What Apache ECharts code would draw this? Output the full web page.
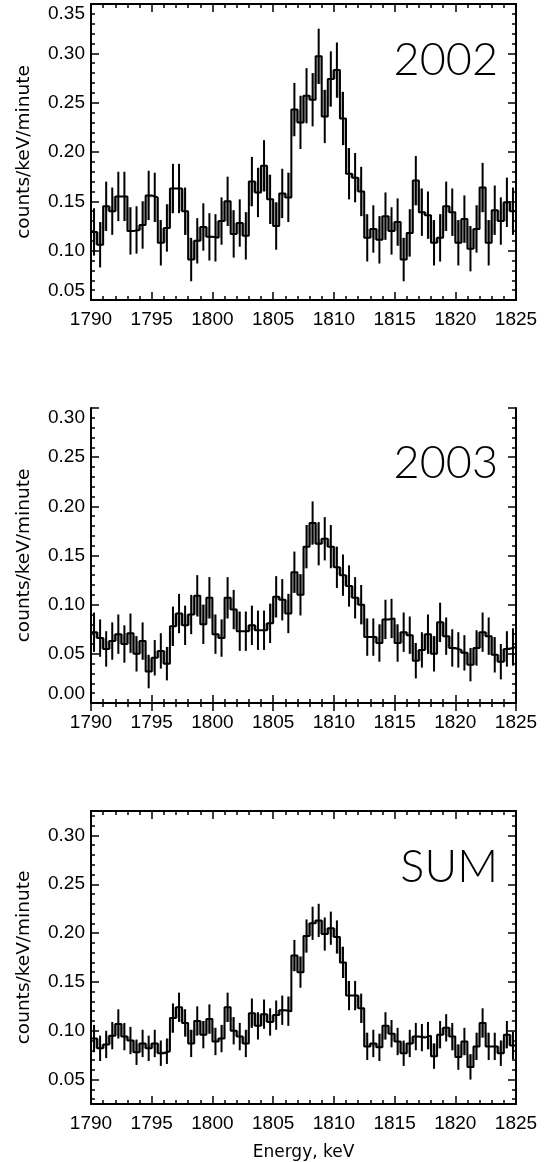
<!DOCTYPE html>
<html><head><meta charset="utf-8">
<script src="https://cdn.jsdelivr.net/npm/echarts@6/dist/echarts.min.js"></script>
<style>html,body{margin:0;padding:0;background:#fff}#c{width:555px;height:1162px}</style>
</head><body><div id="c"></div>
<script>
// ---------- data ----------
const xMin = 1790, xMax = 1825, binWidth = 0.5;
const xTicks = [1790, 1795, 1800, 1805, 1810, 1815, 1820, 1825];
const panelNames = ['2002', '2003', 'SUM'];

const y2002 = [0.119,0.106,0.145,0.140,0.155,0.155,0.120,0.121,0.126,0.156,
               0.154,0.108,0.123,0.163,0.163,0.140,0.091,0.110,0.124,0.114,
               0.113,0.130,0.150,0.117,0.128,0.115,0.170,0.159,0.186,0.152,
               0.125,0.158,0.154,0.243,0.230,0.257,0.253,0.297,0.236,0.274,
               0.283,0.234,0.178,0.174,0.160,0.113,0.122,0.111,0.135,0.120,
               0.129,0.091,0.118,0.171,0.139,0.136,0.108,0.113,0.145,0.139,
               0.108,0.132,0.102,0.122,0.164,0.108,0.141,0.130,0.149,0.140];
const e2002 = [0.024,0.023,0.025,0.024,0.025,0.025,0.024,0.024,0.024,0.025,
               0.025,0.023,0.024,0.025,0.025,0.024,0.022,0.023,0.024,0.024,
               0.024,0.024,0.025,0.024,0.024,0.024,0.025,0.025,0.026,0.025,
               0.024,0.025,0.025,0.027,0.027,0.028,0.027,0.028,0.027,0.028,
               0.028,0.027,0.026,0.025,0.025,0.024,0.024,0.024,0.024,0.024,
               0.024,0.022,0.024,0.025,0.024,0.024,0.023,0.024,0.025,0.024,
               0.023,0.024,0.023,0.024,0.025,0.023,0.025,0.024,0.025,0.024];

const y2003 = [0.072,0.066,0.055,0.063,0.070,0.060,0.071,0.050,0.063,0.032,
               0.046,0.053,0.040,0.078,0.091,0.079,0.090,0.109,0.080,0.107,
               0.070,0.066,0.107,0.095,0.073,0.073,0.079,0.074,0.074,0.081,
               0.108,0.105,0.091,0.133,0.110,0.159,0.183,0.162,0.167,0.159,
               0.138,0.130,0.119,0.107,0.100,0.067,0.067,0.061,0.085,0.086,
               0.061,0.072,0.069,0.043,0.054,0.070,0.050,0.082,0.068,0.056,
               0.054,0.051,0.039,0.056,0.072,0.068,0.049,0.042,0.055,0.057];
const e2003 = [0.020,0.019,0.018,0.019,0.020,0.019,0.020,0.018,0.019,0.017,
               0.018,0.018,0.017,0.020,0.020,0.020,0.020,0.021,0.020,0.021,
               0.020,0.019,0.021,0.020,0.020,0.020,0.020,0.020,0.020,0.020,
               0.021,0.021,0.020,0.021,0.021,0.022,0.022,0.022,0.022,0.022,
               0.021,0.021,0.021,0.021,0.020,0.019,0.019,0.019,0.020,0.020,
               0.019,0.020,0.019,0.018,0.018,0.020,0.018,0.020,0.019,0.019,
               0.018,0.018,0.017,0.018,0.020,0.019,0.018,0.018,0.018,0.019];

const ySum = [0.092,0.082,0.086,0.095,0.107,0.094,0.090,0.078,0.087,0.082,
              0.087,0.077,0.079,0.113,0.124,0.108,0.087,0.110,0.096,0.112,
              0.089,0.092,0.124,0.100,0.094,0.087,0.118,0.105,0.117,0.109,
              0.116,0.121,0.120,0.177,0.160,0.197,0.210,0.213,0.199,0.205,
              0.196,0.170,0.136,0.136,0.123,0.084,0.087,0.083,0.105,0.097,
              0.089,0.077,0.087,0.094,0.093,0.095,0.074,0.096,0.103,0.094,
              0.073,0.089,0.063,0.084,0.108,0.084,0.084,0.077,0.096,0.085];
const eSum = [0.014,0.013,0.014,0.014,0.015,0.014,0.014,0.013,0.014,0.013,
              0.014,0.013,0.013,0.015,0.015,0.014,0.014,0.015,0.014,0.015,
              0.014,0.014,0.015,0.014,0.014,0.014,0.015,0.014,0.015,0.014,
              0.015,0.015,0.015,0.016,0.016,0.017,0.017,0.017,0.017,0.017,
              0.017,0.016,0.015,0.015,0.015,0.014,0.014,0.014,0.014,0.014,
              0.014,0.013,0.014,0.014,0.014,0.014,0.013,0.014,0.014,0.014,
              0.013,0.014,0.013,0.014,0.015,0.014,0.014,0.013,0.014,0.014];

const yTicks2002 = [0.05, 0.10, 0.15, 0.20, 0.25, 0.30, 0.35];
const yTicks2003 = [0.00, 0.05, 0.10, 0.15, 0.20, 0.25, 0.30];
const yTicksSum  = [0.05, 0.10, 0.15, 0.20, 0.25, 0.30];
const yRanges = [[0.05, 0.35], [0.00, 0.30], [0.025, 0.325]];

// ---------- build ----------
const values = [y2002, y2003, ySum];
const errors = [e2002, e2003, eSum];
const yTicks = [yTicks2002, yTicks2003, yTicksSum];
const grids = [
  {left: 91, right: 39, top: 4, height: 296},
  {left: 91, right: 39, top: 408, height: 295},
  {left: 91, right: 39, top: 811, height: 294}
];
const TICKFONT = 'Liberation Sans';
const NAMEFONT = 'DejaVu Sans';
const axisLine = {show: true, lineStyle: {color: '#000', width: 2}};

function minorList(r, ticks) {
  const out = [];
  for (let k = Math.ceil(r[0] * 100 - 1e-9); k <= Math.floor(r[1] * 100 + 1e-9); k++) {
    const v = k / 100;
    if (!ticks.some(t => Math.abs(t - v) < 1e-9)) out.push(v);
  }
  return out;
}

const xAxes = [], yAxes = [], series = [], titles = [];
grids.forEach((g, p) => {
  const endsAtTicks = p !== 2;
  xAxes.push({
    type: 'value', gridIndex: p, position: 'bottom', min: xMin, max: xMax, interval: 5,
    axisLine, splitLine: {show: false},
    axisTick: {show: true, inside: true, length: 8, lineStyle: {color: '#000', width: 1.5}},
    minorTick: {show: true, splitNumber: 5, length: 4, lineStyle: {color: '#000', width: 1.5}},
    axisLabel: {show: true, margin: 10, color: '#000', fontFamily: TICKFONT, fontSize: 19,
                customValues: xTicks, formatter: v => String(v)},
    name: p === 2 ? 'Energy, keV' : '', nameLocation: 'middle', nameGap: 40,
    nameTextStyle: {color: '#000', fontFamily: NAMEFONT, fontSize: 17}
  });
  xAxes.push({
    type: 'value', gridIndex: p, position: 'top', min: xMin, max: xMax, interval: 5,
    axisLine, splitLine: {show: false}, axisLabel: {show: false},
    axisTick: {show: true, inside: true, length: 8, lineStyle: {color: '#000', width: 1.5}},
    minorTick: {show: true, splitNumber: 5, length: 4, lineStyle: {color: '#000', width: 1.5}}
  });
  const r = yRanges[p];
  const minors = minorList(r, yTicks[p]);
  ['left', 'right'].forEach(side => {
    const lbl = {show: side === 'left', margin: 6, color: '#000', fontFamily: TICKFONT, fontSize: 19,
                 customValues: yTicks[p], formatter: v => v.toFixed(2)};
    if (endsAtTicks) { lbl.verticalAlignMaxLabel = 'top'; lbl.verticalAlignMinLabel = 'bottom'; }
    yAxes.push({
      type: 'value', gridIndex: p, position: side, min: r[0], max: r[1],
      axisLine, splitLine: {show: false},
      axisTick: {show: true, inside: true, length: 8, customValues: yTicks[p],
                 lineStyle: {color: '#000', width: 1.5}},
      axisLabel: lbl,
      name: side === 'left' ? 'counts/keV/minute' : '', nameLocation: 'middle', nameGap: 57,
      nameTextStyle: {color: '#000', fontFamily: NAMEFONT, fontSize: 18.5}
    });
    yAxes.push({
      type: 'value', gridIndex: p, position: side, min: r[0], max: r[1],
      axisLine: {show: false}, splitLine: {show: false}, axisLabel: {show: false},
      axisTick: {show: true, inside: true, length: 4, customValues: minors,
                 lineStyle: {color: '#000', width: 1.5}}
    });
  });
  const xi = p * 2, yi = p * 4;
  const vals = values[p], errs = errors[p];
  const stepData = vals.map((v, i) => [xMin + i * binWidth, v]);
  stepData.push([xMin + vals.length * binWidth, vals[vals.length - 1]]);

  // light grey gaps between error bars and step risers (as in the printed figure)
  series.push({
    type: 'custom', xAxisIndex: xi, yAxisIndex: yi, silent: true, animation: false, z: 2,
    data: vals.map((v, i) => [i, v, errs[i]]),
    renderItem: (params, api) => {
      const i = api.value(0), v = api.value(1), e = api.value(2);
      const xc = xMin + (i + 0.5) * binWidth;
      const children = [];
      const addGap = (neighbor, xEdge) => {
        const lo = Math.max(Math.min(v, neighbor), v - e);
        const hi = Math.min(Math.max(v, neighbor), v + e);
        if (hi <= lo) return;
        const a = api.coord([Math.min(xc, xEdge), hi]);
        const b = api.coord([Math.max(xc, xEdge), lo]);
        children.push({type: 'rect', shape: {x: a[0], y: a[1], width: b[0] - a[0], height: b[1] - a[1]},
                       style: {fill: '#a9a9a9'}});
      };
      if (i > 0) addGap(vals[i - 1], xMin + i * binWidth);
      if (i < vals.length - 1) addGap(vals[i + 1], xMin + (i + 1) * binWidth);
      return {type: 'group', children};
    }
  });
  series.push({
    type: 'line', xAxisIndex: xi, yAxisIndex: yi, step: 'end', data: stepData,
    showSymbol: false, symbol: 'none', lineStyle: {color: '#000', width: 2}, silent: true,
    animation: false, z: 3
  });
  series.push({
    type: 'custom', xAxisIndex: xi, yAxisIndex: yi, silent: true, animation: false, z: 4,
    data: vals.map((v, i) => [xMin + (i + 0.5) * binWidth, v - errs[i], v + errs[i]]),
    encode: {x: 0, y: [1, 2]},
    renderItem: (params, api) => {
      const a = api.coord([api.value(0), api.value(1)]);
      const b = api.coord([api.value(0), api.value(2)]);
      return {type: 'line', shape: {x1: a[0], y1: a[1], x2: b[0], y2: b[1]},
              style: {stroke: '#000', lineWidth: 2}};
    }
  });
});

const titleTops = [33, 436, 840];
panelNames.forEach((t, p) => {
  titles.push({text: t, right: 52, top: titleTops[p],
    textStyle: {fontFamily: 'Lato', fontWeight: 300, fontSize: 45, color: '#000'}});
});

const chart = echarts.init(document.getElementById('c'), null, {renderer: 'canvas'});
chart.setOption({
  animation: false, backgroundColor: '#fff',
  title: titles, grid: grids, xAxis: xAxes, yAxis: yAxes, series
});
</script></body></html>
